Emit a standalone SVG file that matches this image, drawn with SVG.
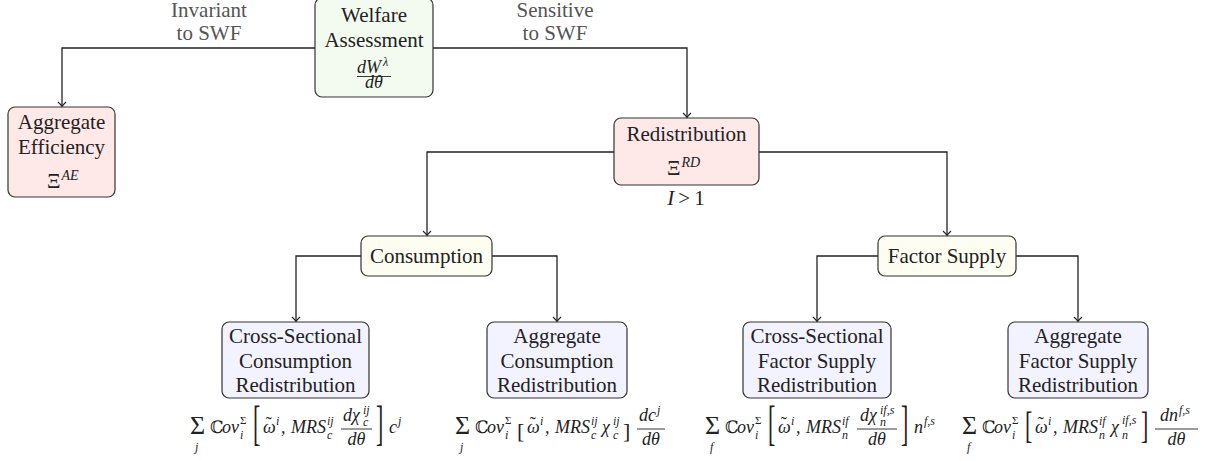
<svg xmlns="http://www.w3.org/2000/svg" width="1206" height="461" viewBox="0 0 1206 461">
<defs>
<style>
.box{stroke:#333;stroke-width:1.2}
.g{fill:#f3fbf0}.p{fill:#ffe8e8}.y{fill:#fefdf2}.b{fill:#f3f3ff}
.t{font-family:"Liberation Serif",serif;font-size:21px;fill:#222;text-anchor:middle}
.lbl{font-family:"Liberation Serif",serif;font-size:21px;fill:#555;text-anchor:middle}
.m{font-family:"Liberation Serif",serif;font-size:18px;font-style:italic;fill:#222}
.mr{font-family:"Liberation Serif",serif;font-size:18px;fill:#222}
.s{font-family:"Liberation Serif",serif;font-size:12px;font-style:italic;fill:#222}
.sr{font-family:"Liberation Serif",serif;font-size:11px;fill:#222}
.big{font-family:"Liberation Serif",serif;font-size:26px;fill:#222}
.bb{font-family:"Liberation Serif",serif;fill:#222}
.br{font-family:"Liberation Serif",serif;font-size:22px;fill:#222}
.cc{font-family:"DejaVu Serif","DejaVu Sans",serif;font-size:17px;fill:#222}
.til{font-style:normal}
.conn path{fill:none;stroke:#222;stroke-width:1.3}
.bar{stroke:#222;stroke-width:0.9}
</style>
<marker id="ar" markerUnits="userSpaceOnUse" markerWidth="12" markerHeight="12" refX="0" refY="0" viewBox="-6 -6 12 12" orient="auto" overflow="visible">
<path d="M-4.5,-4 Q-1.5,-0.8 0,0 Q-1.5,0.8 -4.5,4" fill="none" stroke="#222" stroke-width="1.1"/>
</marker>
</defs>
<rect width="1206" height="461" fill="#fff"/>

<g class="conn">
<path d="M315,48 H62 V106.5" marker-end="url(#ar)"/>
<path d="M433,48 H687 V117.5" marker-end="url(#ar)"/>
<path d="M614,152 H427 V235.5" marker-end="url(#ar)"/>
<path d="M759,152 H947 V235.5" marker-end="url(#ar)"/>
<path d="M361,256 H296 V321.5" marker-end="url(#ar)"/>
<path d="M492,256 H557 V321.5" marker-end="url(#ar)"/>
<path d="M878,256 H817 V321.5" marker-end="url(#ar)"/>
<path d="M1016,256 H1078 V321.5" marker-end="url(#ar)"/>
</g>

<g id="edge-labels">
<text class="lbl" x="209" y="17">Invariant</text>
<text class="lbl" x="209" y="40">to SWF</text>
<text class="lbl" x="555" y="17">Sensitive</text>
<text class="lbl" x="555" y="40">to SWF</text>
</g>

<g id="welfare">
<rect class="box g" x="315" y="-2" width="118" height="99" rx="7"/>
<text class="t" x="374" y="22">Welfare</text>
<text class="t" x="374" y="47">Assessment</text>
<text class="m" x="357" y="73" font-size="16">dW<tspan dx="2" dy="-7" font-size="12">λ</tspan></text>
<line class="bar" x1="357" y1="76.5" x2="391" y2="76.5"/>
<text class="m" x="374" y="88" text-anchor="middle" font-size="15">dθ</text>
</g>

<g id="agg-eff">
<rect class="box p" x="8" y="107" width="107" height="90" rx="7"/>
<text class="t" x="61.5" y="129">Aggregate</text>
<text class="t" x="61.5" y="154">Efficiency</text>
<text class="bb" x="47" y="188" font-size="21">Ξ<tspan dx="1" dy="-8" font-size="14" font-style="italic">AE</tspan></text>
</g>

<g id="redistribution">
<rect class="box p" x="614" y="118" width="145" height="67" rx="7"/>
<text class="t" x="686.5" y="141">Redistribution</text>
<text class="bb" x="667" y="175" font-size="21">Ξ<tspan dx="1" dy="-8" font-size="14" font-style="italic">RD</tspan></text>
<text class="t" x="686" y="205"><tspan font-style="italic">I</tspan><tspan dx="4">&gt;</tspan><tspan dx="4">1</tspan></text>
</g>

<g id="consumption">
<rect class="box y" x="361" y="236" width="131" height="40" rx="7"/>
<text class="t" x="426.5" y="263">Consumption</text>
</g>

<g id="factor-supply">
<rect class="box y" x="878" y="236" width="138" height="40" rx="7"/>
<text class="t" x="947" y="263">Factor Supply</text>
</g>

<g id="cs-consumption">
<rect class="box b" x="222" y="322" width="147" height="76" rx="7"/>
<text class="t" x="295.5" y="343">Cross-Sectional</text>
<text class="t" x="295.5" y="368">Consumption</text>
<text class="t" x="295.5" y="392">Redistribution</text>
</g>

<g id="agg-consumption">
<rect class="box b" x="487" y="322" width="140" height="76" rx="7"/>
<text class="t" x="557" y="343">Aggregate</text>
<text class="t" x="557" y="368">Consumption</text>
<text class="t" x="557" y="392">Redistribution</text>
</g>

<g id="cs-factor">
<rect class="box b" x="743" y="322" width="148" height="76" rx="7"/>
<text class="t" x="817" y="343">Cross-Sectional</text>
<text class="t" x="817" y="368">Factor Supply</text>
<text class="t" x="817" y="392">Redistribution</text>
</g>

<g id="agg-factor">
<rect class="box b" x="1008" y="322" width="140" height="76" rx="7"/>
<text class="t" x="1078" y="343">Aggregate</text>
<text class="t" x="1078" y="368">Factor Supply</text>
<text class="t" x="1078" y="392">Redistribution</text>
</g>

<g id="formula-1">
<text class="big" x="190" y="434">Σ</text>
<text class="s" x="195" y="451">j</text>
<text class="cc" x="210" y="433">ℂ</text><text class="m" x="222" y="433">ov</text>
<text class="sr" x="240" y="424">Σ</text><text class="s" x="240" y="439">i</text>
<text class="br" transform="translate(253,439.3) scale(1,2.2)">[</text>
<text class="m" x="263" y="433">ω<tspan class="til" dx="-10" dy="-3">˜</tspan></text>
<text class="s" x="276" y="425">i</text>
<text class="mr" x="281" y="433">,</text>
<text class="m" x="291" y="433">MRS</text>
<text class="s" x="327" y="425">ij</text><text class="s" x="327" y="439">c</text>
<text class="m" x="343" y="421">dχ</text>
<text class="s" x="363" y="414">ij</text><text class="s" x="363" y="426">c</text>
<line class="bar" x1="341" y1="429" x2="372" y2="429"/>
<text class="m" x="356.5" y="445" text-anchor="middle">dθ</text>
<text class="br" transform="translate(376,439.3) scale(1,2.2)">]</text>
<text class="m" x="389" y="433">c</text><text class="s" x="398" y="425">j</text>
</g>

<g id="formula-2">
<text class="big" x="455" y="434">Σ</text>
<text class="s" x="460" y="451">j</text>
<text class="cc" x="475" y="433">ℂ</text><text class="m" x="487" y="433">ov</text>
<text class="sr" x="505" y="424">Σ</text><text class="s" x="505" y="439">i</text>
<text class="br" x="517" y="438" font-size="21">[</text>
<text class="m" x="527" y="433">ω<tspan class="til" dx="-10" dy="-3">˜</tspan></text>
<text class="s" x="540" y="425">i</text>
<text class="mr" x="545" y="433">,</text>
<text class="m" x="555" y="433">MRS</text>
<text class="s" x="591" y="425">ij</text><text class="s" x="591" y="439">c</text>
<text class="m" x="602" y="433">χ</text>
<text class="s" x="613" y="425">ij</text><text class="s" x="613" y="439">c</text>
<text class="br" x="623" y="438" font-size="21">]</text>
<text class="m" x="639" y="421">dc</text><text class="s" x="657" y="414">j</text>
<line class="bar" x1="637" y1="429" x2="665" y2="429"/>
<text class="m" x="651" y="445" text-anchor="middle">dθ</text>
</g>

<g id="formula-3">
<text class="big" x="705" y="434">Σ</text>
<text class="s" x="710" y="451">f</text>
<text class="cc" x="725" y="433">ℂ</text><text class="m" x="737" y="433">ov</text>
<text class="sr" x="755" y="424">Σ</text><text class="s" x="755" y="439">i</text>
<text class="br" transform="translate(768,439.3) scale(1,2.2)">[</text>
<text class="m" x="778" y="433">ω<tspan class="til" dx="-10" dy="-3">˜</tspan></text>
<text class="s" x="791" y="425">i</text>
<text class="mr" x="796" y="433">,</text>
<text class="m" x="806" y="433">MRS</text>
<text class="s" x="842" y="425">if</text><text class="s" x="842" y="439">n</text>
<text class="m" x="860" y="421">dχ</text>
<text class="s" x="880" y="414">if,s</text><text class="s" x="880" y="426">n</text>
<line class="bar" x1="857" y1="429" x2="897" y2="429"/>
<text class="m" x="877" y="445" text-anchor="middle">dθ</text>
<text class="br" transform="translate(901,439.3) scale(1,2.2)">]</text>
<text class="m" x="914" y="433">n</text><text class="s" x="924" y="425">f,s</text>
</g>

<g id="formula-4">
<text class="big" x="962" y="434">Σ</text>
<text class="s" x="967" y="451">f</text>
<text class="cc" x="982" y="433">ℂ</text><text class="m" x="994" y="433">ov</text>
<text class="sr" x="1012" y="424">Σ</text><text class="s" x="1012" y="439">i</text>
<text class="br" transform="translate(1025,438) scale(1,1.71)">[</text>
<text class="m" x="1035" y="433">ω<tspan class="til" dx="-10" dy="-3">˜</tspan></text>
<text class="s" x="1048" y="425">i</text>
<text class="mr" x="1053" y="433">,</text>
<text class="m" x="1063" y="433">MRS</text>
<text class="s" x="1099" y="425">if</text><text class="s" x="1099" y="439">n</text>
<text class="m" x="1111" y="433">χ</text>
<text class="s" x="1122" y="424">if,s</text><text class="s" x="1122" y="439">n</text>
<text class="br" transform="translate(1141,438) scale(1,1.71)">]</text>
<text class="m" x="1160" y="421">dn</text><text class="s" x="1179" y="414">f,s</text>
<line class="bar" x1="1155" y1="429" x2="1198" y2="429"/>
<text class="m" x="1176.5" y="445" text-anchor="middle">dθ</text>
</g>
</svg>
